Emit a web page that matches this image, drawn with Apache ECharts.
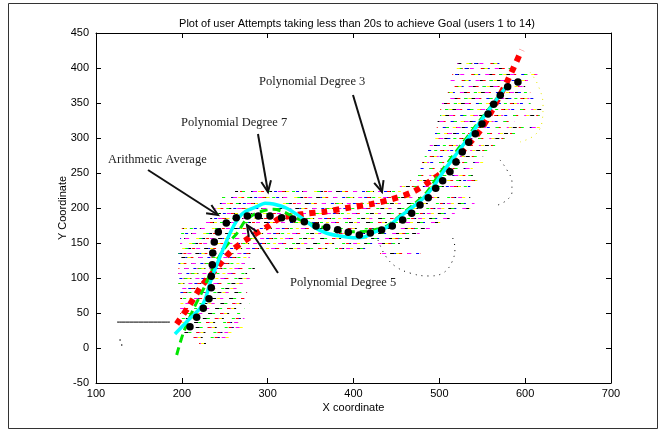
<!DOCTYPE html>
<html>
<head>
<meta charset="utf-8">
<script src="https://cdn.jsdelivr.net/npm/echarts@6/dist/echarts.min.js"></script>
<style>
html,body{margin:0;padding:0;background:#fff}
#chart{width:665px;height:433px}
</style>
</head>
<body>
<div id="chart"></div>
<script>
// Arithmetic average of the user paths (x, y)
const averagePts = [
  [209.5,30.4],[217.3,43.9],[225.0,56.7],[231.6,70.4],[234.3,86.1],[234.3,102.4],
  [235.5,119.0],[236.0,135.7],[237.8,151.4],[242.5,165.7],[251.8,178.6],[263.4,186.1],
  [276.3,188.6],[289.1,188.6],[302.7,188.6],[316.3,186.1],[329.2,184.3],[342.7,180.4],
  [356.3,174.3],[368.8,172.4],[381.6,169.0],[393.9,165.3],[406.8,161.4],[419.6,164.3],
  [432.8,168.6],[445.2,174.3],[457.3,182.9],[467.8,192.4],[477.5,204.3],[487.1,214.7],
  [495.8,228.1],[503.9,239.0],[512.4,251.9],[519.4,265.7],[526.7,280.0],[534.2,293.9],
  [541.9,306.1],[549.7,320.0],[556.7,334.3],[563.3,348.1],[571.0,361.0],[579.6,373.3],
  [591.6,380.0]
];

// Polynomial fit, degree 7
const poly7Pts = [
  [192.0,20.0],[205.7,37.6],[221.2,56.7],[227.0,68.6],[232.8,92.9],[244.5,130.4],
  [256.1,163.9],[265.8,185.3],[273.6,194.7],[287.2,201.9],[296.9,206.7],[306.6,205.7],
  [322.2,199.6],[337.7,187.6],[353.2,173.3],[368.8,163.9],[384.3,160.0],[399.8,157.6],
  [413.4,159.0],[423.1,164.7],[438.7,172.4],[454.2,187.6],[469.7,201.9],[481.3,213.9],
  [493.0,230.4],[504.6,251.9],[524.0,284.0],[539.7,310.0],[557.8,340.0],[576.5,371.0]
];

// Polynomial fit, degree 5
const poly5Pts = [
  [194.0,-10.0],[201.7,21.4],[213.0,54.3],[224.7,82.9],[235.1,111.4],[246.8,137.1],
  [257.3,154.3],[265.4,165.7],[273.6,181.4],[282.9,190.0],[295.0,196.0],[306.6,198.1],
  [318.2,194.7],[333.8,185.3],[349.3,178.1],[368.8,171.0],[388.1,166.1],[407.6,166.1],
  [427.0,169.6],[440.0,175.0],[455.0,190.0],[470.0,205.0],[485.0,222.0],[502.0,252.0],
  [536.0,307.0],[577.5,372.9]
];

// Polynomial fit, degree 3
const poly3Pts = [
  [194.0,34.3],[208.3,60.0],[223.1,88.6],[240.6,113.9],[258.1,139.0],[279.4,158.1],
  [301.5,174.7],[314.4,185.3],[341.5,191.4],[366.8,194.7],[393.9,200.4],[421.2,205.7],
  [444.5,212.4],[469.7,223.3],[491.1,240.0],[512.4,260.0],[529.9,285.3],[547.4,310.4],
  [561.0,338.6],[579.2,381.4],[596.0,425.7]
];

// Recorded user attempts, one row per sampled y level: [y, xStart, xEnd]
const traceRows = [
  [407,521,574],[400,518,585],[391,515,614],[383,512,603],[374,512,600],[366,510,606],
  [357,507,614],[349,503,606],[341,501,621],[333,501,617],[324,498,588],[316,497,617],
  [307,495,594],[299,493,576],[290,489,565],[283,487,561],[274,483,551],[266,480,551],
  [257,477,539],[247,472,539],[240,466,544],[231,454,536],
  [224,262,455],[216,247,536],[207,242,541],[200,239,536],[193,235,518],[186,233,512],
  [179,227,501],[171,200,489],[164,198,477],[157,198,466],[150,198,454],[143,198,419],
  [136,196,280],[136,431,478],
  [129,196,279],[121,196,273],[114,196,285],[107,196,276],[100,196,279],[93,196,273],
  [86,197,267],[79,196,276],[71,198,273],[64,196,279],[57,198,273],[50,198,269],
  [43,200,273],[37,198,266],[30,208,273],[23,203,258],[16,208,258],[7,220,232]
];
const traceColors = ['#000000','#0000ff','#ff0000','#00ff00','#ff00ff','#ffff00'];

// Individual stray paths
const strayLeft = [[124.5,37],[186.2,37]];
const strayDots = [[128,11.4],[130,4.3]];
const loopTrace = [[428.5,154.3],[436.6,132.9],[448.3,117.1],[465.8,107.1],[486.8,102.9],
  [504.3,107.1],[514.7,122.9],[518.2,142.9],[514.7,160.0]];
const arcBlack = [[570.7,268.6],[578.8,254.3],[584.6,237.1],[584.6,222.9],[578.8,211.4],[568.3,204.3]];
const arcYellow = [[605.6,394.3],[614.9,375.7],[620.8,347.1],[619.6,322.9],[611.4,304.3],[594.0,294.3]];

const FONT = '"Liberation Sans", Arial, sans-serif';
const SERIF = '"Liberation Serif", "Times New Roman", serif';

// Callouts: label anchor, arrow tail, arrow head
const notes = [
  {text:'Arithmetic Average', at:[114,268.6], from:[160.6,254.3], to:[242.1,190.0]},
  {text:'Polynomial Degree 7', at:[199,321.4], from:[288.7,305.7], to:[300.4,222.9]},
  {text:'Polynomial Degree 3', at:[290,380.0], from:[399.4,361.4], to:[433.2,222.9]},
  {text:'Polynomial Degree 5', at:[326,92.9], from:[312.0,107.1], to:[275.9,175.7]}
];

const dashes = [[4,13],[3,19],[3,18],[3,22],[4,21],[3,25]];
const offsets = [0,5,9,14,3,19];

const traceSeries = traceColors.map((c, i) => ({
  type: 'lines',
  coordinateSystem: 'cartesian2d',
  polyline: false,
  silent: true,
  z: 1,
  lineStyle: {color: c, width: 1.1, type: dashes[i], opacity: 1},
  data: traceRows.map((r, k) => ({
    coords: [[r[1], r[0]], [r[2], r[0]]],
    lineStyle: {color: c, width: 1.1, type: dashes[i], dashOffset: offsets[i] + k * 7, opacity: 1}
  }))
}));

const strayLine = (pts, color, type) => ({
  type: 'line', data: pts, showSymbol: false, silent: true, z: 1, smooth: 0.4,
  lineStyle: {color: color, width: 1, type: type}
});

const axisCommon = {
  type: 'value',
  axisLine: {show: true, onZero: false, lineStyle: {color: '#000', width: 1}},
  axisTick: {show: true, inside: true, length: 5, lineStyle: {color: '#000'}},
  splitLine: {show: false}
};

const chart = echarts.init(document.getElementById('chart'), null, {renderer: 'canvas'});
chart.setOption({
  animation: false,
  backgroundColor: '#fff',
  title: {
    text: 'Plot of user Attempts taking less than 20s to achieve Goal (users 1 to 14)',
    left: 352, top: 13, textAlign: 'center',
    textStyle: {fontFamily: FONT, fontSize: 11, fontWeight: 'normal', color: '#000'}
  },
  graphic: [{
    type: 'rect', z: -10, silent: true,
    shape: {x: 8.5, y: 3.5, width: 649, height: 425},
    style: {fill: null, stroke: '#333', lineWidth: 1}
  }],
  grid: {left: 96, right: 54, top: 33, bottom: 50},
  xAxis: [
    Object.assign({}, axisCommon, {
      min: 100, max: 700, interval: 100, position: 'bottom',
      axisLabel: {color: '#000', fontFamily: FONT, fontSize: 11, margin: 5},
      name: 'X coordinate', nameLocation: 'middle', nameGap: 19, nameMoveOverlap: false,
      nameTextStyle: {color: '#000', fontFamily: FONT, fontSize: 11}
    }),
    Object.assign({}, axisCommon, {
      min: 100, max: 700, interval: 100, position: 'top', axisLabel: {show: false}
    })
  ],
  yAxis: [
    Object.assign({}, axisCommon, {
      min: -50, max: 450, interval: 50, position: 'left',
      axisLabel: {color: '#000', fontFamily: FONT, fontSize: 11, margin: 7},
      name: 'Y Coordinate', nameLocation: 'middle', nameGap: 28, nameRotate: 90,
      nameMoveOverlap: false,
      nameTextStyle: {color: '#000', fontFamily: FONT, fontSize: 11}
    }),
    Object.assign({}, axisCommon, {
      min: -50, max: 450, interval: 50, position: 'right', axisLabel: {show: false}
    })
  ],
  series: traceSeries.concat([
    strayLine(strayLeft, '#000', 'solid'),
    strayLine(loopTrace, '#000', [1, 5]),
    strayLine(arcBlack, '#000', [1, 5]),
    strayLine(arcYellow, '#e8e800', [1, 5]),
    {type: 'scatter', data: strayDots, symbolSize: 1.5, silent: true, z: 1,
     itemStyle: {color: '#000', opacity: 1}},
    {
      name: 'Polynomial Degree 3', type: 'line', data: poly3Pts, smooth: 0.3,
      showSymbol: false, z: 3,
      lineStyle: {color: '#ff0000', width: 6, type: [6, 6], cap: 'butt'}
    },
    {
      name: 'Polynomial Degree 5', type: 'line', data: poly5Pts, smooth: 0.3,
      showSymbol: false, z: 4,
      lineStyle: {color: '#00e600', width: 3, type: [8, 5]}
    },
    {
      name: 'Polynomial Degree 7', type: 'line', data: poly7Pts, smooth: 0.25,
      showSymbol: false, z: 5,
      lineStyle: {color: '#00ffff', width: 3.5}
    },
    {
      name: 'Arithmetic Average', type: 'scatter', data: averagePts,
      symbol: 'circle', symbolSize: 7.5, z: 6,
      itemStyle: {color: '#000', opacity: 1}
    },
    {
      type: 'custom', z: 7, silent: true, clip: false,
      data: notes.map(n => n.at),
      renderItem: function (params, api) {
        const n = notes[params.dataIndex];
        const t = api.coord(n.at), a = api.coord(n.from), b = api.coord(n.to);
        const ang = Math.atan2(b[1] - a[1], b[0] - a[0]);
        const L = 12, w = 0.42;
        const h1 = [b[0] - L * Math.cos(ang - w), b[1] - L * Math.sin(ang - w)];
        const h2 = [b[0] - L * Math.cos(ang + w), b[1] - L * Math.sin(ang + w)];
        return {
          type: 'group',
          children: [
            {type: 'line', shape: {x1: a[0], y1: a[1], x2: b[0], y2: b[1]},
             style: {stroke: '#111', lineWidth: 2}},
            {type: 'polyline', shape: {points: [h1, b, h2]},
             style: {stroke: '#111', lineWidth: 2, fill: null}},
            {type: 'text', x: t[0], y: t[1],
             style: {text: n.text, font: '12.5px ' + SERIF, fill: '#222',
                     align: 'left', verticalAlign: 'middle'}}
          ]
        };
      }
    }
  ])
});
</script>
</body>
</html>
